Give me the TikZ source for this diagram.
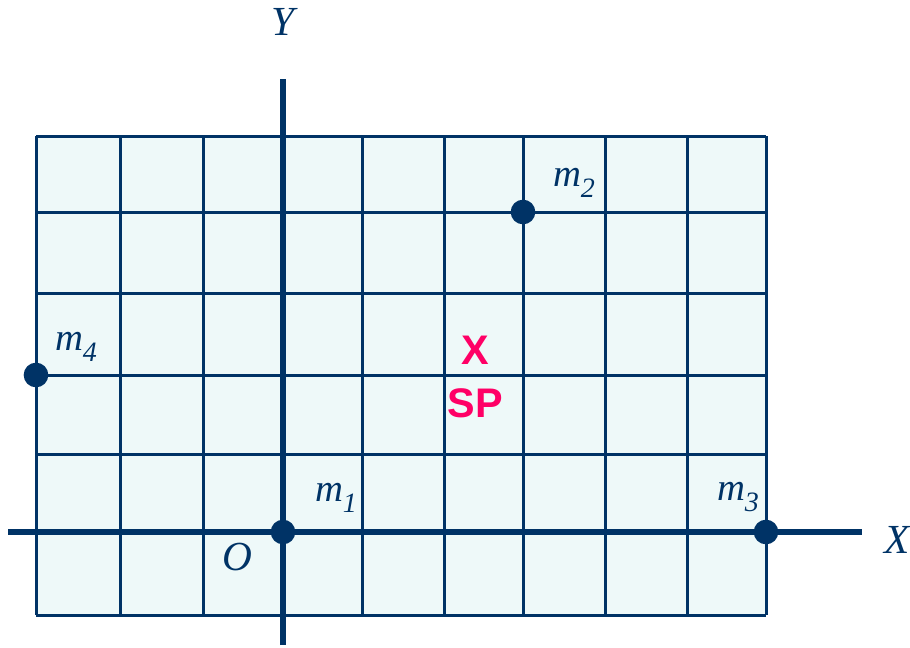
\documentclass[tikz,border=0pt]{standalone}
\usepackage{fontspec}
\setmainfont{Liberation Serif}
\newfontfamily\arialbold{Liberation Sans}[BoldFont={* Bold}]
\definecolor{navy}{HTML}{003366}
\definecolor{cellfill}{HTML}{EEF9F9}
\definecolor{spred}{HTML}{FF0066}
\newcommand{\mlab}[1]{\itshape m\raisebox{-0.27em}{\fontsize{21}{21}\selectfont #1}}
\tikzset{
  gridline/.style={navy, line width=2.25pt},
  axisline/.style={navy, line width=4.5pt},
  masspt/.style={circle, fill=navy, inner sep=0pt, minimum size=18.5pt},
  axlabel/.style={text=navy, font=\fontsize{31}{31}\selectfont\itshape, inner sep=0pt},
  mlabel/.style={text=navy, font=\fontsize{29}{29}\selectfont, inner sep=0pt},
  splabel/.style={text=spred, font=\fontsize{31}{31}\selectfont\arialbold\bfseries, inner sep=0pt}
}
\begin{document}
\begin{tikzpicture}[x=0.75pt, y=-0.75pt]
\useasboundingbox (0,0) rectangle (910,647);
% grid
\fill[cellfill] (36,136) rectangle (766,615);
\foreach \i in {36,120,203,283,362,444,523,605,687,766} \draw[gridline] (\i,136) -- (\i,615);
\foreach \j in {136,212,293,375,454,532,615} \draw[gridline] (36,\j) -- (766,\j);
% axes
\coordinate (xl) at (8,532);
\coordinate (xr) at (862,532);
\coordinate (yb) at (283,645);
\coordinate (yt) at (283,79);
\draw[axisline] (xl) -- (xr);
\draw[axisline] (yb) -- (yt);
% points
\node[masspt] (m1) at (283,532) {};
\node[masspt] (m2) at (523,212) {};
\node[masspt] (m3) at (766,532) {};
\node[masspt] (m4) at (36,375) {};
% labels
\node[axlabel] (ylab) at (283,22) {Y};
\node[axlabel] (xlab) at (897,540) {X};
\node[axlabel] (olab) at (237,557) {O};
\node[mlabel] (l1) at (336,498) {\mlab{1}};
\node[mlabel] (l2) at (574,183) {\mlab{2}};
\node[mlabel] (l3) at (738,497) {\mlab{3}};
\node[mlabel] (l4) at (76,347) {\mlab{4}};
\node[splabel] (xsp) at (475,350) {X};
\node[splabel] (sp) at (475,403) {SP};
\end{tikzpicture}
\end{document}
